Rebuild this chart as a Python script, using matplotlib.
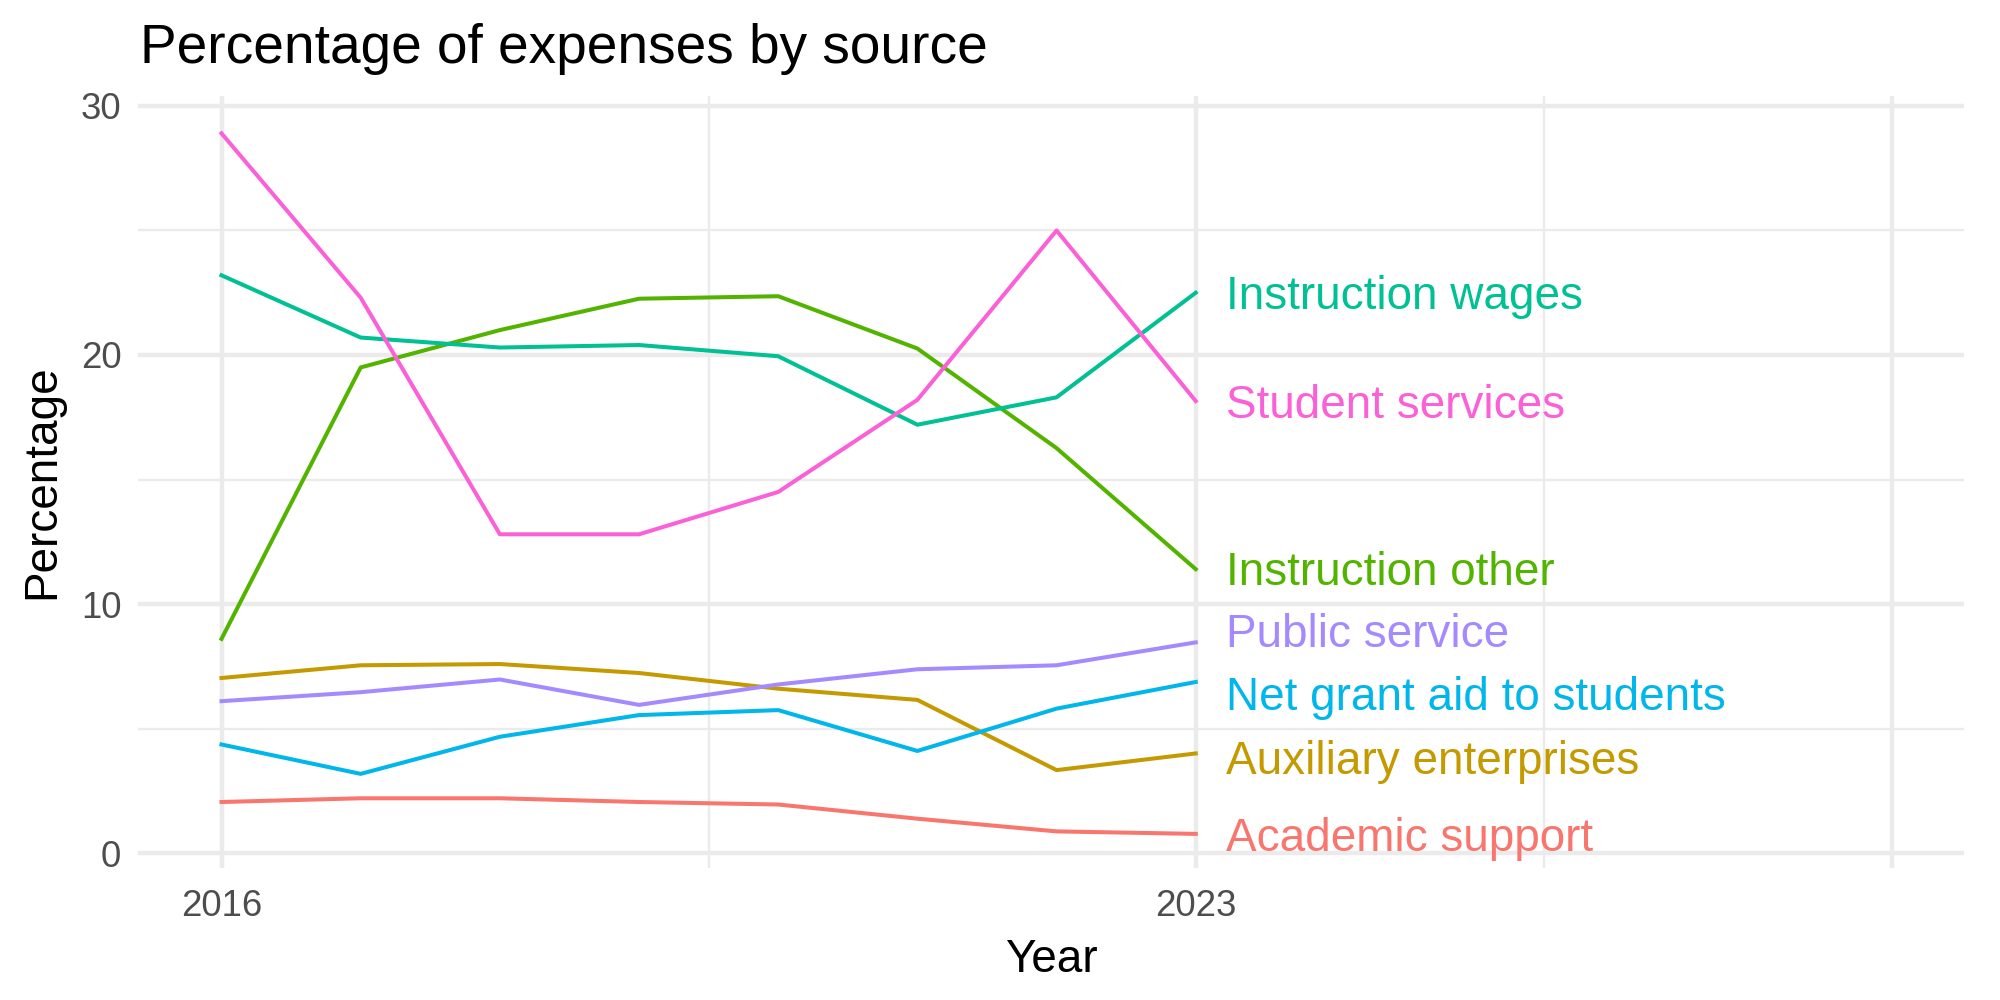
import matplotlib
matplotlib.use('Agg')
import matplotlib.pyplot as plt

plt.rcParams['font.family'] = ['Liberation Sans', 'DejaVu Sans']

# data
years = [2016, 2017, 2018, 2019, 2020, 2021, 2022, 2023]
academic_support = [2.05, 2.2, 2.2, 2.05, 1.95, 1.38, 0.87, 0.77]
auxiliary_enterprises = [7.03, 7.54, 7.59, 7.23, 6.6, 6.15, 3.33, 4.0]
instruction_other = [8.6, 19.5, 21.0, 22.26, 22.36, 20.26, 16.26, 11.4]
instruction_wages = [23.2, 20.7, 20.3, 20.4, 19.95, 17.2, 18.3, 22.5]
net_grant_aid = [4.36, 3.18, 4.67, 5.54, 5.74, 4.1, 5.8, 6.87]
public_service = [6.1, 6.46, 6.97, 5.95, 6.77, 7.38, 7.54, 8.46]
student_services = [28.9, 22.3, 12.8, 12.8, 14.5, 18.2, 25.0, 18.15]

sources = ['Academic support', 'Auxiliary enterprises', 'Instruction other',
           'Instruction wages', 'Net grant aid to students', 'Public service',
           'Student services']
series = [academic_support, auxiliary_enterprises, instruction_other,
          instruction_wages, net_grant_aid, public_service, student_services]
colors = ['#F8766D', '#C49A00', '#53B400', '#00C094', '#00B6EB', '#A58AFF', '#FB61D7']

# label baselines (repelled a bit like the original)
label_y = [0.08, 3.18, 10.77, 21.83, 5.74, 8.26, 17.45]


def graph():
    fig = plt.figure(figsize=(20, 10), dpi=100)
    ax = fig.add_axes([0.069, 0.132, 0.913, 0.772])

    # ggplot minimal-ish grid
    grid_col = '#EBEBEB'
    for yv in [0, 10, 20, 30]:
        ax.axhline(yv, color=grid_col, lw=3.2, zorder=0)
    for yv in [5, 15, 25]:
        ax.axhline(yv, color=grid_col, lw=1.7, zorder=0)
    for xv in [2016, 2023, 2028]:
        ax.axvline(xv, color=grid_col, lw=3.2, zorder=0)
    for xv in [2019.5, 2025.5]:
        ax.axvline(xv, color=grid_col, lw=1.7, zorder=0)

    for name, vals, col, ly in zip(sources, series, colors, label_y):
        ax.plot(years, vals, color=col, lw=2.9, zorder=2)
        ax.text(years[-1] + 0.22, ly, name, color=col, fontsize=33,
                ha='left', va='baseline', zorder=3)

    ax.set_xlim(2015.4, 2028.52)
    ax.set_ylim(-0.6, 30.4)
    ax.set_xticks([2016, 2023, 2028])
    ax.set_xticklabels(['2016', '2023', ''])
    ax.set_yticks([0, 10, 20, 30])
    ax.tick_params(length=0, labelsize=26.4, colors='#4D4D4D')
    ax.tick_params(axis='x', pad=15)
    ax.tick_params(axis='y', pad=12)
    for s in ax.spines.values():
        s.set_visible(False)

    ax.set_xlabel('Year', fontsize=33, labelpad=10)
    ax.set_ylabel('Percentage', fontsize=33, labelpad=12)
    fig.text(0.07, 0.951, 'Percentage of expenses by source', fontsize=39.6,
             ha='left', va='center')

    fig.savefig('out.png', dpi=100, facecolor='white')


def main():
    graph()


if __name__ == "__main__":
    main()
